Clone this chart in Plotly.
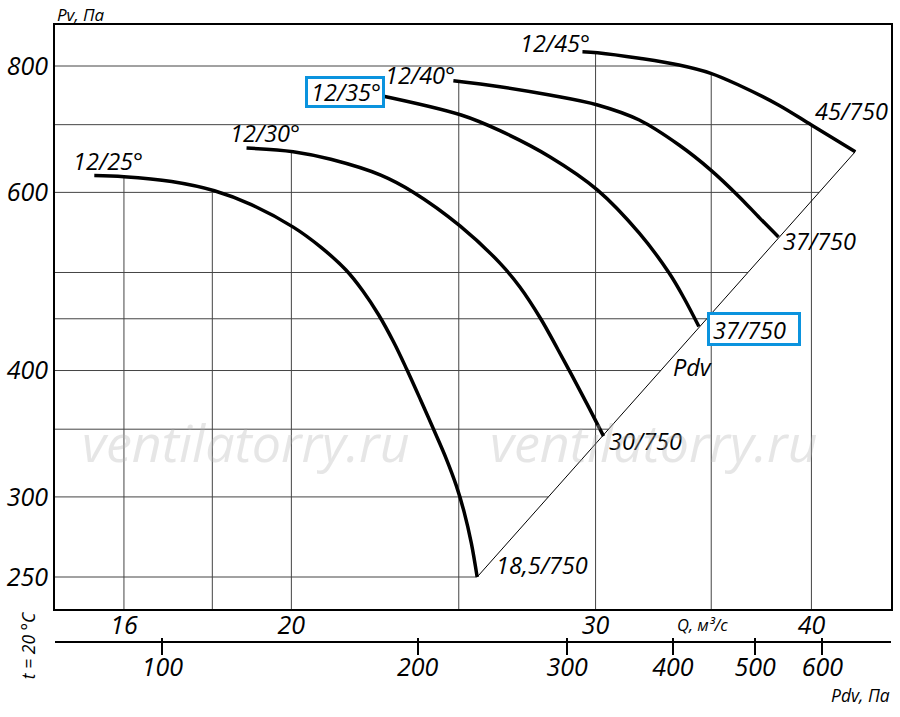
import numpy as np
import plotly.graph_objects as go

# ---------------- data ----------------
q_ticks = [16, 20, 30, 40]
pdv_ticks = [100, 200, 300, 400, 500, 600]
pv_ticks = [250, 300, 400, 600, 800]
q_grid = [16, 18, 20, 25, 30, 35, 40]
pv_grid = [250, 300, 350, 400, 450, 500, 600, 700, 800]

blade_labels = ["12/25°", "12/30°", "12/35°", "12/40°", "12/45°"]
motor_labels = ["18,5/750", "30/750", "37/750", "37/750", "45/750"]

q_25 = [15.38, 16.0, 17.05, 18.05, 18.96, 20.05, 20.80, 21.51, 22.00, 22.47, 22.92, 23.32, 23.76, 24.17,
        24.59, 24.92, 25.18, 25.42, 25.62]
pv_25 = [623.4, 621.9, 615.0, 602.2, 583.5, 554.4, 529.7, 502.8, 479.4, 453.9, 426.8, 401.4, 374.1, 350.1,
         327.0, 307.6, 289.8, 270.2, 250.0]
q_30 = [18.84, 20.05, 21.08, 22.53, 23.54, 25.05, 26.41, 27.12, 27.89, 28.52, 29.10, 29.72, 30.32]
pv_30 = [663.8, 658.3, 647.0, 624.1, 600.0, 555.7, 510.8, 483.8, 449.8, 420.1, 394.2, 368.2, 344.5]
q_35 = [22.44, 25.08, 26.41, 28.22, 30.08, 31.80, 33.09, 33.75, 34.43]
pv_35 = [748.9, 715.5, 690.5, 650.8, 603.2, 546.9, 499.4, 471.8, 442.1]
q_40 = [24.82, 26.41, 28.22, 30.08, 31.80, 33.53, 34.98, 36.30, 37.34, 38.28]
pv_40 = [773.7, 763.2, 748.9, 732.1, 707.4, 668.3, 631.3, 594.9, 565.9, 542.1]
q_45 = [29.48, 30.08, 31.80, 33.53, 34.98, 36.30, 38.28, 40.0, 42.41]
pv_45 = [826.5, 824.6, 814.2, 801.8, 786.8, 766.2, 732.1, 699.4, 658.3]

curves_q = [q_25, q_30, q_35, q_40, q_45]
curves_pv = [pv_25, pv_30, pv_35, pv_40, pv_45]

# ---------------- layout constants ----------------
X_RANGE = [1.16421, 1.64813]       # log10 Q
Y_RANGE = [2.36601, 2.94362]       # log10 Pv
PDV_RANGE = [1.87325, 2.85919]     # log10 Pdv
FONT = "Open Sans"
BLUE = "#0b93de"

# ---------------- helpers ----------------
lg = np.log10


def curve_at(qs, pvs, q):
    if q < qs[0] or q > qs[-1]:
        return None
    return 10 ** np.interp(lg(q), lg(qs), lg(pvs))


# Pdv line through lowest and highest curve end points
ends = sorted([(qs[-1], pvs[-1]) for qs, pvs in zip(curves_q, curves_pv)], key=lambda e: e[1])
d_lo, d_hi = ends[0], ends[-1]


def diag_q(p):
    t = (lg(p) - lg(d_lo[1])) / (lg(d_hi[1]) - lg(d_lo[1]))
    return 10 ** (lg(d_lo[0]) + t * (lg(d_hi[0]) - lg(d_lo[0])))


top_q, top_pv = curves_q[-1], curves_pv[-1]

gx, gy = [], []
q_min, pv_min = 10 ** X_RANGE[0], 10 ** Y_RANGE[0]
for q in q_grid:
    vals = [curve_at(qs, pvs, q) for qs, pvs in zip(curves_q, curves_pv)]
    vals = [v for v in vals if v is not None]
    gx += [q, q, None]
    gy += [max(vals), pv_min, None]
for p in pv_grid:
    if p <= d_hi[1]:
        qe = diag_q(p)
    else:
        qe = 10 ** np.interp(lg(p), lg(top_pv[::-1]), lg(top_q[::-1]))
    gx += [q_min, qe, None]
    gy += [p, p, None]

fig = go.Figure()
fig.add_trace(go.Scatter(x=gx, y=gy, mode="lines", line=dict(color="#444", width=1),
                         hoverinfo="skip", showlegend=False))
fig.add_trace(go.Scatter(x=[d_lo[0], d_hi[0]], y=[d_lo[1], d_hi[1]], mode="lines",
                         line=dict(color="black", width=1), hoverinfo="skip", showlegend=False))
for qs, pvs in zip(curves_q, curves_pv):
    fig.add_trace(go.Scatter(x=qs, y=pvs, mode="lines",
                             line=dict(color="black", width=3.5, shape="spline", smoothing=1.0),
                             showlegend=False))
# invisible traces to activate the Pdv axes
for ax in ["x2", "x3"]:
    fig.add_trace(go.Scatter(x=[pdv_ticks[0]], y=[pv_ticks[0]], xaxis=ax, yaxis="y", mode="markers",
                             marker=dict(opacity=0), hoverinfo="skip", showlegend=False))

lab_font = dict(family=FONT, size=23.5, color="black", style="italic")
ann = []

# offsets (px, right / up) of labels relative to curve start and end points
start_off = [(14, 14.5), (18, 15), (-32, 3), (-33, 6), (-27, 9)]
end_off = [(65, 12), (42, -5), (51, -3), (41, -4), (-4, 41)]
boxed_start = [False, False, True, False, False]
boxed_end = [False, False, True, False, False]

for i, (qs, pvs) in enumerate(zip(curves_q, curves_pv)):
    sx, sy = start_off[i]
    if boxed_start[i]:
        ann.append(dict(x=lg(qs[0]), y=lg(pvs[0]), xref="x", yref="y", text=" ", showarrow=False,
                        xanchor="center", yanchor="middle",
                        xshift=sx - 0.5, yshift=sy + 0.5, width=74, height=26, borderpad=0,
                        bordercolor=BLUE, borderwidth=3, bgcolor="white", font=lab_font))
    ann.append(dict(x=lg(qs[0]), y=lg(pvs[0]), xref="x", yref="y", text=blade_labels[i], showarrow=False,
                    xanchor="center", yanchor="middle", xshift=sx, yshift=sy, font=lab_font))
    ex, ey = end_off[i]
    if boxed_end[i]:
        ann.append(dict(x=lg(qs[-1]), y=lg(pvs[-1]), xref="x", yref="y", text=" ", showarrow=False,
                        xanchor="center", yanchor="middle",
                        xshift=ex + 4.5, yshift=ey + 1, width=88, height=28, borderpad=0,
                        bordercolor=BLUE, borderwidth=3, bgcolor="white", font=lab_font))
    ann.append(dict(x=lg(qs[-1]), y=lg(pvs[-1]), xref="x", yref="y", text=motor_labels[i], showarrow=False,
                    xanchor="center", yanchor="middle", xshift=ex, yshift=ey, font=lab_font))


# plot area in px: x 53..893, y 25..650
def px(xp):
    return (xp - 53) / 840.0


def py(yp):
    return (650 - yp) / 625.0


def paper_text(x, y, text, font, **kw):
    return dict(x=px(x), y=py(y), xref="paper", yref="paper", text=text, showarrow=False,
                xanchor="center", yanchor="middle", font=font, **kw)


small = dict(family=FONT, size=17.5, color="black", style="italic")
ann += [
    paper_text(694, 367, "Pdv", lab_font),
    paper_text(79, 15, "Pv, Па", dict(family=FONT, size=17, color="black", style="italic")),
    paper_text(26, 645, "t = 20 °C", small, textangle=-90),
    paper_text(704, 624, "Q, м³/с", dict(family=FONT, size=16.5, color="black", style="italic")),
    paper_text(862, 695, "Pdv, Па", small),
]
wm_font = dict(family=FONT, size=52, color="rgba(180,180,180,0.33)", style="italic")
for cx in [245, 655]:
    ann.append(paper_text(cx, 441, "ventilatorry.ru", wm_font))

tick_font = dict(family=FONT, size=25, color="black", style="italic")
fig.update_layout(
    width=900, height=717,
    margin=dict(l=53, r=7, t=25, b=67),
    paper_bgcolor="white", plot_bgcolor="white",
    annotations=ann,
    xaxis=dict(type="log", range=X_RANGE, tickvals=q_ticks, ticktext=[str(v) for v in q_ticks],
               showgrid=False, zeroline=False, showline=True, linecolor="black", linewidth=2,
               mirror=True, ticks="", tickfont=tick_font, anchor="y", ticklabelstandoff=-7),
    yaxis=dict(type="log", range=Y_RANGE, domain=[0.0651, 1], tickvals=pv_ticks,
               ticktext=[str(v) for v in pv_ticks], showgrid=False, zeroline=False, showline=True,
               linecolor="black", linewidth=2, mirror=True, ticks="", tickfont=tick_font),
    xaxis2=dict(type="log", range=PDV_RANGE, overlaying="x", anchor="free", position=0.0128, side="bottom",
                tickvals=pdv_ticks, ticktext=[str(v) for v in pdv_ticks], showgrid=False, zeroline=False,
                showline=True, linecolor="black", linewidth=2, ticks="outside", ticklen=12, tickwidth=1.5,
                tickcolor="black", tickfont=tick_font, ticklabelstandoff=-9),
    xaxis3=dict(type="log", range=PDV_RANGE, overlaying="x", anchor="free", position=0.0128, side="bottom",
                tickvals=pdv_ticks, showgrid=False, zeroline=False, showline=False, ticks="inside",
                ticklen=4, tickwidth=1.5, tickcolor="black", showticklabels=False),
    showlegend=False,
)

fig.write_html("out.html", config={"displayModeBar": False},
               post_script="document.body.style.margin='0';")
